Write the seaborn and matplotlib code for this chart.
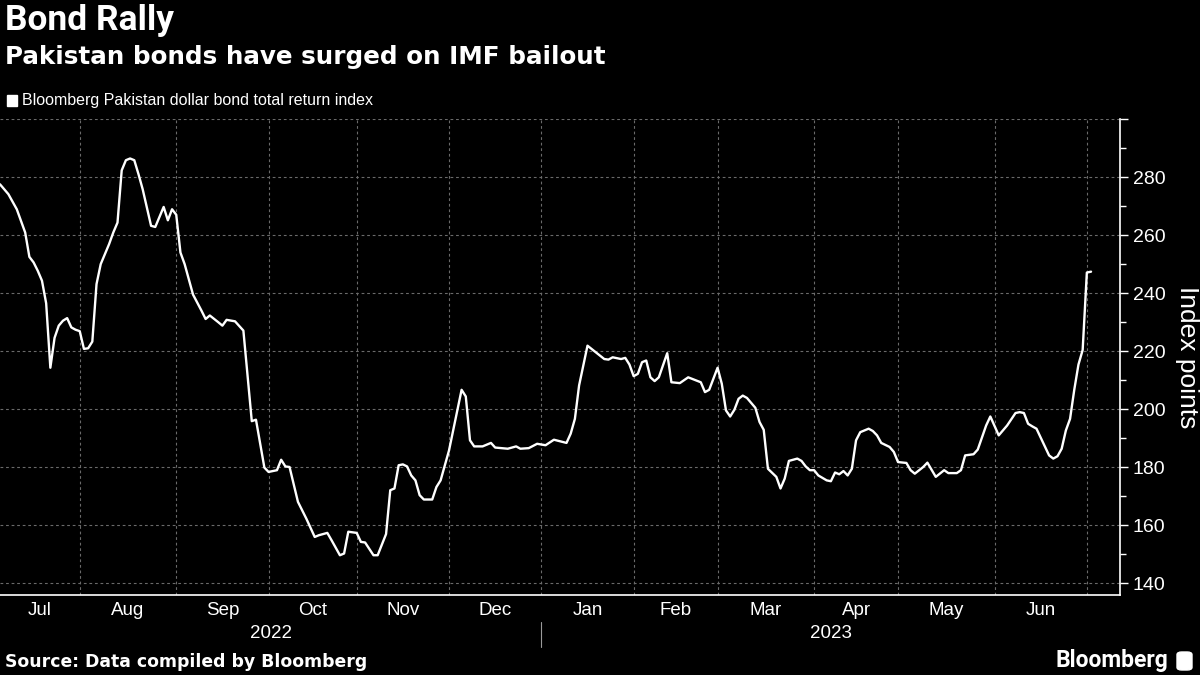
import pandas as pd
import numpy as np
import seaborn as sns
import matplotlib.pyplot as plt
import matplotlib.transforms as mtransforms
from matplotlib.patches import FancyBboxPatch, Rectangle

sns.set_theme(style="dark")
plt.rcParams['font.family'] = ['Liberation Sans', 'DejaVu Sans']

# Bloomberg Pakistan dollar bond total return index
dates = [
    "2022-07-05", "2022-07-07", "2022-07-11", "2022-07-12", "2022-07-13", "2022-07-14",
    "2022-07-15", "2022-07-18", "2022-07-19", "2022-07-20", "2022-07-21", "2022-07-22",
    "2022-07-25", "2022-07-26", "2022-07-27", "2022-07-28", "2022-07-29", "2022-08-01",
    "2022-08-02", "2022-08-03", "2022-08-04", "2022-08-05", "2022-08-08", "2022-08-10",
    "2022-08-11", "2022-08-12", "2022-08-15", "2022-08-16", "2022-08-17", "2022-08-18",
    "2022-08-19", "2022-08-22", "2022-08-24", "2022-08-25", "2022-08-29", "2022-08-30",
    "2022-08-31", "2022-09-01", "2022-09-02", "2022-09-05", "2022-09-07", "2022-09-09",
    "2022-09-12", "2022-09-13", "2022-09-15", "2022-09-16", "2022-09-19", "2022-09-21",
    "2022-09-23", "2022-09-27", "2022-09-28", "2022-09-30", "2022-10-03", "2022-10-05",
    "2022-10-06", "2022-10-07", "2022-10-10", "2022-10-12", "2022-10-14", "2022-10-18",
    "2022-10-19", "2022-10-21", "2022-10-24", "2022-10-26", "2022-10-27", "2022-10-28",
    "2022-11-01", "2022-11-02", "2022-11-03", "2022-11-07", "2022-11-08", "2022-11-10",
    "2022-11-11", "2022-11-14", "2022-11-15", "2022-11-16", "2022-11-17", "2022-11-18",
    "2022-11-21", "2022-11-22", "2022-11-23", "2022-11-25", "2022-11-28", "2022-11-29",
    "2022-12-01", "2022-12-06", "2022-12-07", "2022-12-08", "2022-12-09", "2022-12-13",
    "2022-12-15", "2022-12-16", "2022-12-21", "2022-12-23", "2022-12-26", "2022-12-28",
    "2022-12-30", "2023-01-03", "2023-01-05", "2023-01-10", "2023-01-11", "2023-01-12",
    "2023-01-13", "2023-01-17", "2023-01-19", "2023-01-23", "2023-01-24", "2023-01-25",
    "2023-01-27", "2023-01-30", "2023-01-31", "2023-02-01", "2023-02-02", "2023-02-03",
    "2023-02-06", "2023-02-07", "2023-02-08", "2023-02-09", "2023-02-13", "2023-02-14",
    "2023-02-16", "2023-02-20", "2023-02-23", "2023-02-24", "2023-02-27", "2023-03-01",
    "2023-03-02", "2023-03-03", "2023-03-06", "2023-03-07", "2023-03-08", "2023-03-09",
    "2023-03-10", "2023-03-14", "2023-03-15", "2023-03-16", "2023-03-17", "2023-03-21",
    "2023-03-22", "2023-03-23", "2023-03-24", "2023-03-28", "2023-03-29", "2023-03-30",
    "2023-03-31", "2023-04-03", "2023-04-04", "2023-04-06", "2023-04-07", "2023-04-10",
    "2023-04-11", "2023-04-12", "2023-04-13", "2023-04-14", "2023-04-17", "2023-04-18",
    "2023-04-20", "2023-04-21", "2023-04-24", "2023-04-25", "2023-04-27", "2023-04-28",
    "2023-05-01", "2023-05-03", "2023-05-04", "2023-05-05", "2023-05-09", "2023-05-10",
    "2023-05-12", "2023-05-16", "2023-05-17", "2023-05-19", "2023-05-22", "2023-05-23",
    "2023-05-25", "2023-05-26", "2023-05-30", "2023-05-31", "2023-06-02", "2023-06-06",
    "2023-06-08", "2023-06-09", "2023-06-12", "2023-06-13", "2023-06-14", "2023-06-15",
    "2023-06-20", "2023-06-21", "2023-06-22", "2023-06-23", "2023-06-26", "2023-06-27",
    "2023-06-28", "2023-06-29", "2023-06-30", "2023-07-03", "2023-07-04",
]
index_values = [
    277.5, 274.1, 268.9, 264.9, 260.9, 252.5,
    250.6, 247.7, 244.3, 236.5, 214.3, 224.6,
    228.8, 230.5, 231.4, 228.2, 227.4, 226.9,
    220.8, 221.0, 223.3, 243.1, 250.0, 256.9,
    260.9, 264.3, 282.3, 285.8, 286.4, 285.8,
    281.0, 275.8, 263.2, 262.8, 269.7, 265.1,
    268.9, 267.0, 254.0, 250.0, 239.5, 234.0,
    231.1, 232.3, 230.0, 228.8, 230.8, 230.3,
    227.1, 195.9, 196.4, 179.9, 178.4, 179.0,
    182.6, 180.3, 180.1, 168.1, 162.3, 156.0,
    156.6, 157.4, 154.9, 149.7, 150.3, 157.8,
    157.4, 154.3, 154.1, 149.7, 149.7, 157.0,
    172.1, 172.7, 180.7, 181.0, 180.3, 177.2,
    175.5, 170.4, 168.9, 168.9, 173.2, 175.5,
    185.8, 206.7, 204.4, 189.3, 187.2, 187.2,
    188.4, 186.8, 186.4, 187.2, 186.4, 186.6,
    188.1, 187.6, 189.5, 188.4, 191.6, 196.7,
    208.2, 221.9, 219.6, 217.3, 217.1, 217.9,
    217.3, 217.7, 215.4, 211.4, 212.2, 216.2,
    216.8, 211.0, 209.7, 211.0, 219.3, 209.3,
    209.0, 211.0, 209.3, 205.9, 206.7, 214.3,
    208.8, 199.6, 197.5, 199.8, 203.6, 204.7,
    203.9, 200.5, 195.6, 192.9, 179.5, 176.7,
    172.7, 176.1, 182.2, 183.0, 182.2, 180.3,
    179.0, 179.0, 177.2, 175.5, 175.2, 178.2,
    177.6, 178.7, 177.2, 179.5, 189.3, 192.1,
    193.3, 192.5, 191.0, 188.4, 187.0, 185.3,
    181.8, 181.5, 179.0, 177.8, 180.1, 181.6,
    176.7, 179.0, 178.0, 178.0, 179.0, 184.1,
    184.5, 186.1, 194.4, 197.5, 191.0, 194.4,
    198.7, 199.0, 198.7, 195.0, 194.1, 193.3,
    184.1, 183.0, 183.8, 186.4, 192.7, 196.7,
    206.7, 215.4, 220.4, 247.1, 247.4,
]
month_labels = ["Jul", "Aug", "Sep", "Oct", "Nov", "Dec",
                "Jan", "Feb", "Mar", "Apr", "May", "Jun"]
year_labels = ["2022", "2023"]
y_ticks = [140, 160, 180, 200, 220, 240, 260, 280, 300]
y_tick_labels = ["140", "160", "180", "200", "220", "240", "260", "280", ""]

title = "Bond Rally"
subtitle = "Pakistan bonds have surged on IMF bailout"
legend_label = "Bloomberg Pakistan dollar bond total return index"
source = "Source: Data compiled by Bloomberg"

# trading-day axis (weekends skipped, like the terminal chart)
bdays = pd.bdate_range("2022-07-01", "2023-07-31")
df = pd.DataFrame({"date": pd.to_datetime(dates), "value": index_values})
df["pos"] = bdays.get_indexer(df["date"])

x_left = df["pos"].iloc[0]
x_right = df["pos"].iloc[-1] + 6.9
month_starts = bdays.to_series().groupby(bdays.to_period("M")).first()
bounds = [bdays.get_loc(d) for d in month_starts if "2022-08-01" <= str(d.date()) <= "2023-07-31"]
bounds = bounds[:12]  # Aug 2022 .. Jul 2023
edges = [x_left] + bounds
centers = [(a + b) / 2 for a, b in zip(edges[:-1], edges[1:])]
jan_pos = bdays.get_loc(pd.Timestamp("2023-01-02"))

BG = "black"
FG = "white"
GRID = "#6a6a6a"

fig = plt.figure(figsize=(12, 6.75), dpi=100, facecolor=BG)
ax = fig.add_axes([0, 1 - 595 / 675, 1120 / 1200, (595 - 119) / 675])
ax.set_facecolor(BG)

sns.lineplot(data=df, x="pos", y="value", ax=ax, color=FG, linewidth=1.7,
             estimator=None, sort=False, legend=False)

ax.set_xlim(x_left, x_right)
ax.set_ylim(136, 300)

# y axis on the right
ax.yaxis.tick_right()
ax.yaxis.set_label_position("right")
ax.set_yticks(y_ticks)
ax.set_yticklabels(y_tick_labels)
ax.set_yticks(list(range(150, 300, 20)), minor=True)
ax.tick_params(axis="y", which="major", length=6, width=1, color=FG,
               labelcolor=FG, labelsize=14, pad=3)
ax.tick_params(axis="y", which="minor", length=4, width=1, color=FG)
ax.set_ylabel("Index points", rotation=270, color=FG, fontsize=19, labelpad=24)

# x axis: ticks at month boundaries, labels centred in each month
ax.set_xticks(bounds)
ax.set_xticklabels([""] * len(bounds))
ax.set_xticks(centers, minor=True)
ax.set_xticklabels(month_labels, minor=True)
ax.tick_params(axis="x", which="major", length=5, width=1, color=FG, direction="out")
ax.tick_params(axis="x", which="minor", length=0, labelcolor=FG, labelsize=13.5, pad=5)
ax.set_xlabel("")

ax.grid(True, which="major", axis="both", color=GRID, linestyle=(0, (2.5, 2.5)), linewidth=0.8)
for s in ["left", "top"]:
    ax.spines[s].set_visible(False)
for s in ["bottom", "right"]:
    ax.spines[s].set_color(FG)
    ax.spines[s].set_linewidth(1.2)

# year labels and separator
trans = mtransforms.blended_transform_factory(ax.transData, ax.transAxes)
ax.text((x_left + jan_pos) / 2, -0.081, year_labels[0], transform=trans,
        ha="center", va="center", color=FG, fontsize=13.5)
ax.text((jan_pos + x_right) / 2, -0.081, year_labels[1], transform=trans,
        ha="center", va="center", color=FG, fontsize=13.5)
ax.plot([jan_pos, jan_pos], [-0.057, -0.11], transform=trans, clip_on=False,
        color="#9a9a9a", linewidth=0.8)

# header
fig.text(5 / 1200, 1 - 4 / 675, title, ha="left", va="top", color=FG,
         fontsize=25.5, fontweight="bold", family=["Roboto", "DejaVu Sans"])
fig.text(5 / 1200, 1 - 45 / 675, subtitle, ha="left", va="top", color=FG,
         fontsize=17.7, fontweight="bold", family=["DejaVu Sans"])
fig.patches.append(Rectangle((7 / 1200, 1 - 106 / 675), 10 / 1200, 11 / 675,
                             transform=fig.transFigure, color=FG))
fig.text(22 / 1200, 1 - 100 / 675, legend_label, ha="left", va="center", color=FG,
         fontsize=11.5)

# footer
fig.text(5 / 1200, 1 - 662 / 675, source, ha="left", va="center", color=FG,
         fontsize=12.4, fontweight="bold", family=["DejaVu Sans"])
fig.text(1168 / 1200, 1 - 661 / 675, "Bloomberg", ha="right", va="center", color=FG,
         fontsize=16.5, fontweight="bold", family=["Roboto", "DejaVu Sans"])
fig.patches.append(FancyBboxPatch((1177 / 1200, 1 - 670 / 675), 15 / 1200, 18 / 675,
                                  boxstyle="round,pad=0,rounding_size=0.004",
                                  transform=fig.transFigure, color=FG))

fig.savefig("out.png", dpi=100, facecolor=BG)
